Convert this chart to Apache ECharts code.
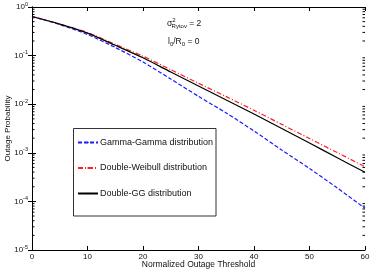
<!DOCTYPE html>
<html>
<head>
<meta charset="utf-8">
<script src="https://cdn.jsdelivr.net/npm/echarts@6/dist/echarts.min.js"></script>
<style>html,body{margin:0;padding:0;background:#fff;}#c{width:371px;height:273px;}</style>
</head>
<body>
<div id="c"></div>
<script>
// Data
var thresholds = [0, 5, 10, 15, 20, 25, 30, 35, 40, 45, 50, 55, 60];
var gammaGamma = [0.638, 0.436, 0.272, 0.147, 0.0738, 0.0330, 0.0145, 6.59e-3, 2.81e-3, 1.14e-3, 4.75e-4, 1.89e-4, 7.21e-5];
var doubleWeibull = [0.638, 0.447, 0.299, 0.170, 0.0975, 0.0513, 0.0270, 0.0143, 7.49e-3, 3.84e-3, 1.97e-3, 1.01e-3, 5.18e-4];
var doubleGG = [0.638, 0.445, 0.290, 0.163, 0.0900, 0.0460, 0.0237, 0.0122, 6.29e-3, 3.16e-3, 1.59e-3, 7.93e-4, 3.97e-4];
var seriesNames = ['Gamma-Gamma distribution', 'Double-Weibull distribution', 'Double-GG distribution'];
var xTicks = [0, 10, 20, 30, 40, 50, 60];
var yTickExponents = [0, -1, -2, -3, -4, -5];
var minorMultipliers = [2, 3, 4, 5, 6, 7, 8, 9];

function pairs(xs, ys) { return xs.map(function (x, i) { return [x, ys[i]]; }); }

var minorTicks = [];
for (var e = -5; e < 0; e++) {
  minorMultipliers.forEach(function (m) { minorTicks.push([0, m * Math.pow(10, e)]); });
}

var FONT = 'Liberation Sans';
var chart = echarts.init(document.getElementById('c'), null, { renderer: 'canvas' });
chart.setOption({
  animation: false,
  backgroundColor: '#fff',
  textStyle: { fontFamily: FONT },
  grid: { left: 32, right: 6, top: 7, bottom: 23, containLabel: false, outerBoundsMode: 'none' },
  xAxis: [{
    type: 'value', min: 0, max: 60, interval: 10, position: 'bottom',
    name: 'Normalized Outage Threshold', nameLocation: 'middle', nameGap: 10, nameMoveOverlap: false,
    nameTextStyle: { fontSize: 8.5, color: '#111', fontFamily: FONT },
    axisLine: { show: true, lineStyle: { color: '#000', width: 1 } },
    axisTick: { show: true, inside: true, length: 4, lineStyle: { color: '#000' } },
    axisLabel: { fontSize: 8, color: '#111', margin: 3,
      formatter: function (v) { return xTicks.indexOf(v) >= 0 ? String(v) : ''; } },
    splitLine: { show: false }
  }, {
    type: 'value', min: 0, max: 60, interval: 10, position: 'top',
    axisLine: { show: true, lineStyle: { color: '#000', width: 1 } },
    axisTick: { show: true, inside: true, length: 4, lineStyle: { color: '#000' } },
    axisLabel: { show: false }, splitLine: { show: false }
  }],
  yAxis: [{
    type: 'log', logBase: 10, min: 1e-5, max: 1, position: 'left',
    name: 'Outage Probability', nameLocation: 'middle', nameGap: 20, nameMoveOverlap: false,
    nameTextStyle: { fontSize: 8, color: '#111', fontFamily: FONT },
    axisLine: { show: true, lineStyle: { color: '#000', width: 1 } },
    axisTick: { show: true, inside: true, length: 4, lineStyle: { color: '#000' } },
    axisLabel: {
      margin: 4, color: '#111',
      formatter: function (v) {
        var ex = Math.round(Math.log10(v));
        if (yTickExponents.indexOf(ex) < 0) return '';
        return '{b|10}{s|' + ex + '}';
      },
      rich: {
        b: { fontSize: 8, color: '#111', fontFamily: FONT },
        s: { fontSize: 5.5, color: '#111', fontFamily: FONT, padding: [0, 0, 6, 0] }
      }
    },
    splitLine: { show: false }
  }, {
    type: 'log', logBase: 10, min: 1e-5, max: 1, position: 'right',
    axisLine: { show: true, lineStyle: { color: '#000', width: 1 } },
    axisTick: { show: true, inside: true, length: 4, lineStyle: { color: '#000' } },
    axisLabel: { show: false }, splitLine: { show: false }
  }],
  legend: {
    data: seriesNames,
    orient: 'vertical', left: 77, top: 138, itemGap: 16.5,
    itemWidth: 20, itemHeight: 2, padding: 0,
    textStyle: { fontSize: 9, color: '#111', fontFamily: FONT, padding: [0, 0, 0, -3] }
  },
  graphic: [
    { type: 'rect', shape: { x: 73.5, y: 128.5, width: 142.5, height: 87.5 },
      style: { fill: 'none', stroke: '#333', lineWidth: 1 }, z: 10, silent: true },
    { type: 'text', left: 167, top: 17, style: { text: '{s|σ}{p|2}{r|Rytov}{t| = 2}',
      rich: {
        s: { fontSize: 8.5, fill: '#111', fontFamily: FONT },
        p: { fontSize: 6, fill: '#111', fontFamily: FONT, padding: [0, 0, 7, 0] },
        r: { fontSize: 6, fill: '#111', fontFamily: FONT, padding: [5, 0, 0, -4] },
        t: { fontSize: 8.5, fill: '#111', fontFamily: FONT }
      } }, z: 20 },
    { type: 'text', left: 168, top: 37, style: { text: '{a|l}{b|0}{a|/R}{b|0}{a| = 0}',
      rich: {
        a: { fontSize: 8.5, fill: '#111', fontFamily: FONT },
        b: { fontSize: 6, fill: '#111', fontFamily: FONT, padding: [5, 0, 0, 0] }
      } }, z: 20 }
  ],
  series: [{
    name: seriesNames[0], type: 'line', data: pairs(thresholds, gammaGamma),
    symbol: 'none', smooth: 0.25, xAxisIndex: 0, yAxisIndex: 0,
    lineStyle: { color: '#1a1aff', width: 1.2, type: [4, 2] },
    itemStyle: { color: '#1a1aff' }, z: 3
  }, {
    name: seriesNames[1], type: 'line', data: pairs(thresholds, doubleWeibull),
    symbol: 'none', smooth: 0.25, xAxisIndex: 0, yAxisIndex: 0,
    lineStyle: { color: '#ff2020', width: 1.2, type: [5, 2, 1, 2] },
    itemStyle: { color: '#ff2020' }, z: 3
  }, {
    name: seriesNames[2], type: 'line', data: pairs(thresholds, doubleGG),
    symbol: 'none', smooth: 0.25, xAxisIndex: 0, yAxisIndex: 0,
    lineStyle: { color: '#000', width: 1.2, type: 'solid' },
    itemStyle: { color: '#000' }, z: 4
  }, {
    name: 'minorTicks', type: 'custom', data: minorTicks, silent: true, clip: false,
    xAxisIndex: 0, yAxisIndex: 0,
    renderItem: function (params, api) {
      var l = api.coord([0, api.value(1)]);
      var r = api.coord([60, api.value(1)]);
      return { type: 'group', children: [
        { type: 'line', shape: { x1: l[0], y1: l[1], x2: l[0] + 2.5, y2: l[1] }, style: { stroke: '#000', lineWidth: 1 } },
        { type: 'line', shape: { x1: r[0], y1: r[1], x2: r[0] - 2.5, y2: r[1] }, style: { stroke: '#000', lineWidth: 1 } }
      ] };
    }
  }]
});
</script>
</body>
</html>
